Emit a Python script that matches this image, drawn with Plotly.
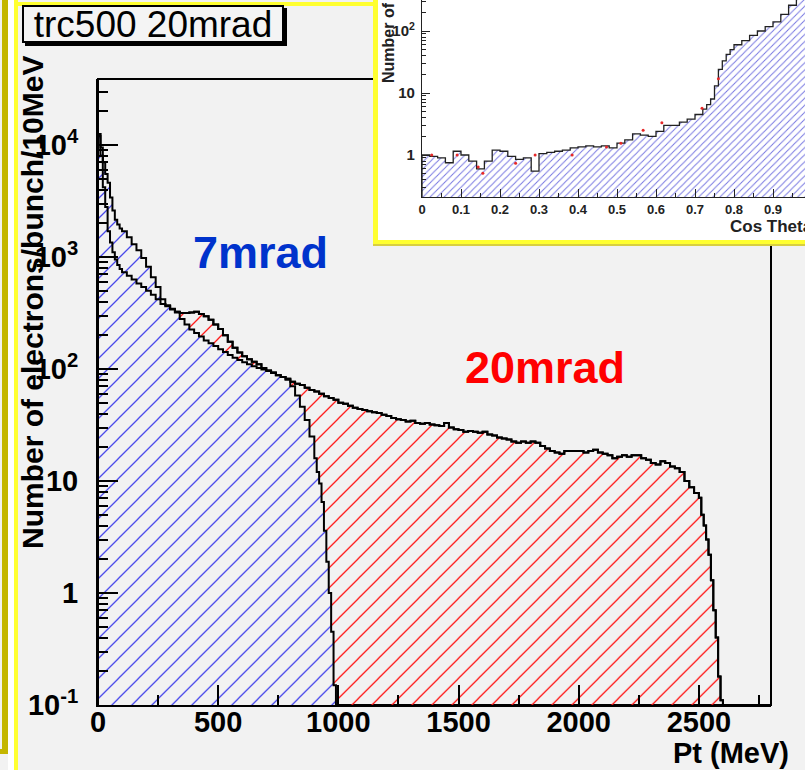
import plotly.graph_objects as go

W, H = 805, 770


def X(px):
    return px / W


def Y(py):
    return 1 - py / H


# ---------------- main plot data (Pt spectra, electrons/bunch/10MeV) ----------------
edges_7mrad = [*range(0, 100, 10), *range(100, 900, 20), *range(900, 1010, 10)]
counts_7mrad = [
    12000, 9500, 7000, 5500, 4600, 3400, 2600, 2150, 1950, 1800,
    1700, 1500, 1300, 1150, 980, 820, 660, 540, 420, 370,
    345, 320, 280, 250, 225, 210, 195, 180, 170, 160,
    150, 142, 133, 126, 120, 115, 110, 106, 102, 99,
    96, 92, 88, 85, 80, 70, 58, 46, 35, 25,
    16, 12, 9.5, 6.5, 3.6, 1.9, 1.0, 0.45, 0.15, 0.05,
]

edges_20mrad = [*range(0, 100, 10), *range(100, 2500, 20), *range(2500, 2610, 10)]
counts_20mrad = [
    12500, 8000, 4200, 2800, 1700, 1350, 1100, 950, 850, 780,
    730, 680, 630, 580, 540, 500, 460, 420, 380, 363,
    339, 324, 316, 316, 320, 325, 310, 295, 275, 250,
    228, 200, 175, 155, 140, 130, 122, 116, 110, 102,
    97, 93, 88, 85, 82, 77, 74, 72, 68, 65,
    63, 60, 57, 55, 53, 50, 49, 47, 45, 44,
    43, 42, 41, 40.5, 39, 38, 36.5, 35.5, 35, 34,
    34.5, 33, 32.5, 33, 32, 31.5, 31, 33, 30, 29,
    28.5, 27.5, 28, 27.5, 27, 27.5, 26, 25.5, 24.5, 24,
    23.5, 22.5, 22, 22.5, 22, 22.5, 22, 20.5, 19.5, 18.5,
    18, 17.5, 18.5, 18.5, 18.5, 18.5, 18, 18.5, 19, 18,
    17.5, 17, 16, 16.5, 17, 16.5, 17, 17, 16, 15.5,
    14.5, 14, 15, 14.5, 13.5, 13, 12, 10, 8.8, 7.8,
    7.1, 5.0, 4.0, 3.0, 2.2, 1.3, 0.7, 0.4, 0.18, 0.11,
]

xtick_vals = [0, 500, 1000, 1500, 2000, 2500]
xtick_text = ["0", "500", "1000", "1500", "2000", "2500"]
ytick_vals = [0.1, 1, 10, 100, 1000, 10000]
ytick_text = ["10<sup>-1</sup>", "1", "10", "10<sup>2</sup>", "10<sup>3</sup>", "10<sup>4</sup>"]

# ---------------- inset data (Cos Theta) ----------------
inset_edges = ([round(0.02 * i, 2) for i in range(36)] +
               [round(0.72 + 0.01 * i, 2) for i in range(8)] +
               [round(0.80 + 0.02 * i, 2) for i in range(11)])
inset_counts = [
    1.0, 0.95, 0.9, 0.75, 1.15, 1.0, 0.8, 0.6, 0.8, 1.2,
    1.15, 0.95, 0.85, 0.9, 0.55, 1.05, 1.1, 1.15, 1.2, 1.3,
    1.35, 1.4, 1.35, 1.4, 1.3, 1.55, 1.75, 2.2, 2.1, 2.0,
    2.4, 3.0, 3.0, 3.4, 3.8, 4.5,
    5.5, 6.5, 8, 13, 24, 33, 42, 50,
    60, 70, 85, 100, 118, 140, 185, 260, 420, 700,
]
inset_red_x = [0.025, 0.09, 0.144, 0.156, 0.24, 0.29, 0.385, 0.473, 0.51, 0.567, 0.615, 0.718, 0.76]
inset_red_y = [1.0, 1.0, 0.64, 0.51, 0.74, 1.0, 1.0, 1.35, 1.55, 2.5, 3.3, 5.7, 17]
inset_xtick_vals = [0, 0.1, 0.2, 0.3, 0.4, 0.5, 0.6, 0.7, 0.8, 0.9]
inset_xtick_text = ["0", "0.1", "0.2", "0.3", "0.4", "0.5", "0.6", "0.7", "0.8", "0.9"]
inset_ytick_vals = [1, 10, 100]
inset_ytick_text = ["1", "10", "10<sup>2</sup>"]

BG = "#f2f2f2"


def step_polygon(edges, counts, floor=1e-3):
    xs = [edges[0]] + list(edges[:-1]) + [edges[-1], edges[-1]]
    ys = [floor] + list(counts) + [counts[-1], floor]
    return xs, ys


fig = go.Figure()

x20, y20 = step_polygon(edges_20mrad, counts_20mrad)
x7, y7 = step_polygon(edges_7mrad, counts_7mrad)

# 20 mrad hatched area (red)
fig.add_trace(go.Scatter(
    x=x20, y=y20, mode="lines", line=dict(color="black", width=2, shape="hv"),
    fill="toself", fillcolor="rgba(0,0,0,0)",
    fillpattern=dict(shape="/", fgcolor="rgb(255,20,20)", bgcolor="rgba(0,0,0,0)",
                     size=14.14, solidity=0.09, fillmode="replace"),
    hoverinfo="skip", showlegend=False, xaxis="x", yaxis="y"))

# 7 mrad hatched area (blue) drawn over it, hiding the red hatch underneath
fig.add_trace(go.Scatter(
    x=x7, y=y7, mode="lines", line=dict(color="black", width=2, shape="hv"),
    fill="toself", fillcolor=BG,
    fillpattern=dict(shape="/", fgcolor="rgb(70,70,235)", bgcolor=BG,
                     size=14.14, solidity=0.09, fillmode="replace"),
    hoverinfo="skip", showlegend=False, xaxis="x", yaxis="y"))

# 20 mrad outline redrawn on top
fig.add_trace(go.Scatter(
    x=x20, y=y20, mode="lines", line=dict(color="black", width=2, shape="hv"),
    hoverinfo="skip", showlegend=False, xaxis="x", yaxis="y"))

xi, yi = step_polygon(inset_edges, inset_counts)
fig.add_trace(go.Scatter(
    x=xi, y=yi, mode="lines", line=dict(color="#222222", width=1.3, shape="hv"),
    fill="toself", fillcolor="rgba(0,0,0,0)",
    fillpattern=dict(shape="/", fgcolor="rgb(120,120,225)", bgcolor="rgba(0,0,0,0)",
                     size=5, solidity=0.2, fillmode="replace"),
    hoverinfo="skip", showlegend=False, xaxis="x2", yaxis="y2"))

fig.add_trace(go.Scatter(
    x=inset_red_x, y=inset_red_y, mode="markers",
    marker=dict(color="rgb(230,40,40)", size=3),
    hoverinfo="skip", showlegend=False, xaxis="x2", yaxis="y2"))

bold = dict(family="Liberation Sans", color="black", weight="bold")

minor_y = [m * 10 ** e for e in range(-1, 5) for m in range(2, 10)]
minor_x = [250, 750, 1250, 1750, 2250, 2750]
inset_minor_x = [0.05, 0.15, 0.25, 0.35, 0.45, 0.55, 0.65, 0.75, 0.85, 0.95]
inset_minor_y = [m * 10 ** e for e in range(-1, 3) for m in range(2, 10)]

fig.update_layout(
    width=W, height=H, margin=dict(l=0, r=0, t=0, b=0, autoexpand=False),
    paper_bgcolor=BG, plot_bgcolor="rgba(0,0,0,0)",
    xaxis=dict(domain=[X(98), X(771)], range=[0, 2800], anchor="y", automargin=False,
               showline=True, linecolor="black", linewidth=2, mirror=False,
               ticks="inside", ticklen=20, tickwidth=1.5, tickcolor="black",
               tickmode="array", tickvals=xtick_vals, ticktext=xtick_text,
               ticklabelposition="outside", ticklabelstandoff=-10,
               minor=dict(tickmode="array", tickvals=minor_x, ticks="inside", ticklen=10,
                          tickwidth=1.5, tickcolor="black", showgrid=False),
               showgrid=False, zeroline=False, tickfont=dict(size=29, **bold),
               fixedrange=True),
    yaxis=dict(domain=[Y(705), Y(79)], type="log", range=[-1, 4.589], anchor="x", automargin=False,
               showline=True, linecolor="black", linewidth=2, mirror=False,
               ticks="inside", ticklen=20, tickwidth=1.5, tickcolor="black",
               tickmode="array", tickvals=ytick_vals, ticktext=ytick_text,
               minor=dict(tickmode="array", tickvals=minor_y, ticks="inside", ticklen=10,
                          tickwidth=1.5, tickcolor="black", showgrid=False),
               showgrid=False, zeroline=False, tickfont=dict(size=29, **bold),
               ticklabelstandoff=12, fixedrange=True),
    xaxis2=dict(domain=[X(422), 1], range=[0, (805 - 422) / 390], anchor="y2", automargin=False,
                showline=True, linecolor="#222222", linewidth=1.3,
                ticks="inside", ticklen=8, tickwidth=1, tickcolor="#222222",
                tickmode="array", tickvals=inset_xtick_vals, ticktext=inset_xtick_text,
                minor=dict(tickmode="array", tickvals=inset_minor_x, ticks="inside", ticklen=4,
                           tickwidth=1, tickcolor="#222222", showgrid=False),
                showgrid=False, zeroline=False,
                tickfont=dict(family="Liberation Sans", size=13, color="#222222", weight="bold"),
                fixedrange=True),
    yaxis2=dict(domain=[Y(197), 1], type="log", range=[-0.677, 2.5], anchor="x2", automargin=False,
                showline=True, linecolor="#222222", linewidth=1.3,
                ticks="inside", ticklen=8, tickwidth=1, tickcolor="#222222",
                tickmode="array", tickvals=inset_ytick_vals, ticktext=inset_ytick_text,
                minor=dict(tickmode="array", tickvals=inset_minor_y, ticks="inside", ticklen=4,
                           tickwidth=1, tickcolor="#222222", showgrid=False),
                showgrid=False, zeroline=False,
                tickfont=dict(family="Liberation Sans", size=15, color="#222222", weight="bold"),
                ticklabelstandoff=3, fixedrange=True),
)

shapes = [
    # outer olive frame corner (left)
    dict(type="rect", xref="paper", yref="paper", x0=X(0), x1=X(8), y0=Y(0), y1=Y(754),
         fillcolor="#c4b600", line=dict(width=0), layer="below"),
    dict(type="rect", xref="paper", yref="paper", x0=X(0), x1=X(2), y0=Y(0), y1=Y(749),
         fillcolor=BG, line=dict(width=0), layer="below"),
    dict(type="rect", xref="paper", yref="paper", x0=X(8), x1=X(14), y0=Y(0), y1=Y(770),
         fillcolor="#ffffff", line=dict(width=0), layer="below"),
    # bright yellow frame of the main picture
    dict(type="rect", xref="paper", yref="paper", x0=X(14), x1=X(18), y0=Y(0), y1=Y(770),
         fillcolor="#ffff30", line=dict(width=0), layer="below"),
    dict(type="rect", xref="paper", yref="paper", x0=X(14), x1=X(378), y0=Y(2), y1=Y(6),
         fillcolor="#ffff30", line=dict(width=0), layer="below"),
    # main frame
    dict(type="rect", xref="paper", yref="paper", x0=X(98), x1=X(771), y0=Y(705), y1=Y(79),
         line=dict(color="black", width=2), fillcolor="rgba(0,0,0,0)", layer="below"),
    # inset background with yellow border
    dict(type="rect", xref="paper", yref="paper", x0=X(373), x1=X(805), y0=Y(246), y1=Y(0),
         fillcolor="#d8cf40", line=dict(width=0), layer="below"),
    dict(type="rect", xref="paper", yref="paper", x0=X(373), x1=X(805), y0=Y(244), y1=Y(0),
         fillcolor="#ffff30", line=dict(width=0), layer="below"),
    dict(type="rect", xref="paper", yref="paper", x0=X(378), x1=X(805), y0=Y(240), y1=Y(0),
         fillcolor="#ffffff", line=dict(width=0), layer="below"),
]
fig.update_layout(shapes=shapes)

annotations = [
    # y-axis title (main)
    dict(text="Number of electrons/bunch/10MeV", xref="paper", yref="paper",
         x=X(32), y=Y(303), xanchor="center", yanchor="middle", textangle=-90,
         showarrow=False, font=dict(size=30, **bold)),
    # label box shadow and box
    dict(text=" ", xref="paper", yref="paper", x=X(156), y=Y(27), xanchor="center", yanchor="middle",
         width=258, height=34, bgcolor="black", borderwidth=2, bordercolor="black", borderpad=0,
         showarrow=False, font=dict(size=10)),
    dict(text="trc500 20mrad", xref="paper", yref="paper", x=X(153), y=Y(24),
         xanchor="center", yanchor="middle", width=258, height=34,
         bgcolor="#f4f4f4", borderwidth=2, bordercolor="black", borderpad=0,
         showarrow=False, font=dict(family="Liberation Sans", size=37, color="black")),
    # x-axis title
    dict(text="Pt (MeV)", xref="paper", yref="paper", x=X(791), y=Y(753),
         xanchor="right", yanchor="middle", showarrow=False, font=dict(size=29, **bold)),
    # series labels
    dict(text="7mrad", xref="paper", yref="paper", x=X(191), y=Y(252),
         xanchor="left", yanchor="middle", showarrow=False,
         font=dict(family="Liberation Sans", size=45, color="#0033cc", weight="bold")),
    dict(text="20mrad", xref="paper", yref="paper", x=X(463), y=Y(368),
         xanchor="left", yanchor="middle", showarrow=False,
         font=dict(family="Liberation Sans", size=45, color="#ff0000", weight="bold")),
    # inset titles
    dict(text="Cos Theta", xref="paper", yref="paper", x=X(728), y=Y(226),
         xanchor="left", yanchor="middle", showarrow=False,
         font=dict(family="Liberation Sans", size=17, color="#222222", weight="bold")),
    dict(text="Number of electrons", xref="paper", yref="paper", x=X(389), y=Y(5),
         xanchor="center", yanchor="middle", textangle=-90, showarrow=False,
         font=dict(family="Liberation Sans", size=16, color="#222222", weight="bold")),
]
fig.update_layout(annotations=annotations)

fig.write_html("out.html")
